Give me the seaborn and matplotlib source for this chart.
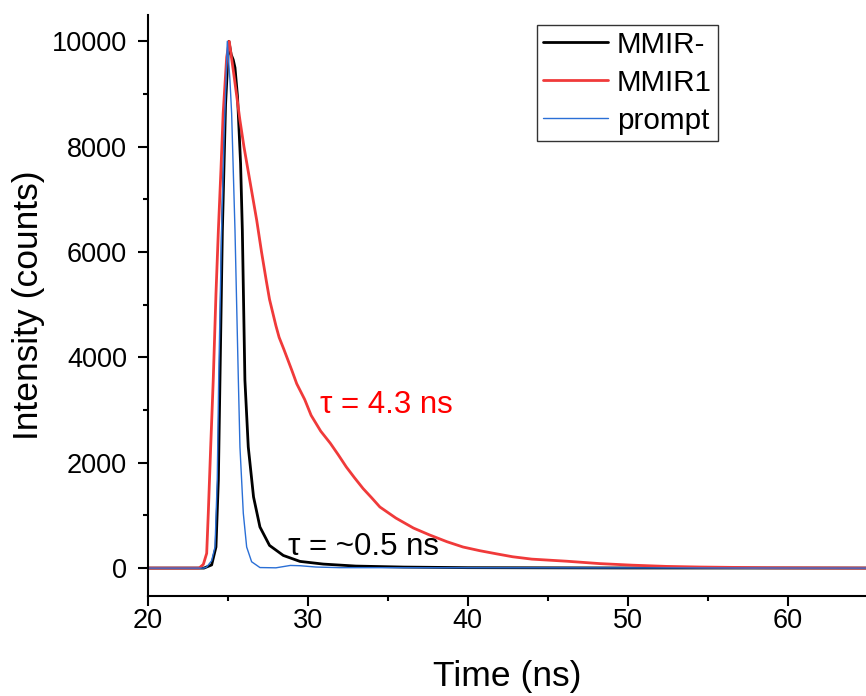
import numpy as np
import pandas as pd
import matplotlib
matplotlib.use("Agg")
import matplotlib.pyplot as plt
from matplotlib.ticker import MultipleLocator
import seaborn as sns

# ---- data ----
t_mmir1 = [20.0, 23.2, 23.46, 23.67, 23.77, 23.92, 24.08, 24.25, 24.4, 24.56, 24.7, 24.92,
           25.08, 25.4, 25.75, 26.0, 26.2, 26.4, 26.8, 27.1, 27.4, 27.6, 27.8, 28.0, 28.2,
           28.5, 28.75, 29.0, 29.3, 29.55, 29.8, 30.2, 30.8, 31.4, 31.9, 32.4, 32.9, 33.45,
           34.0, 34.5, 35.5, 36.6, 37.6, 38.7, 39.7, 40.75, 41.8, 42.8, 44.0, 46.2, 48.25,
           50.3, 52.4, 54.5, 58.7, 63.0, 65.0]
i_mmir1 = [0, 0, 70, 280, 1040, 2300, 3570, 5200, 6410, 7550, 8630, 9700,
           10000, 9300, 8500, 8000, 7650, 7300, 6600, 6000, 5450, 5100, 4850, 4600, 4380,
           4150, 3950, 3750, 3500, 3350, 3200, 2900, 2600, 2370, 2150, 1920, 1720, 1510,
           1330, 1160, 950, 760, 630, 500, 400, 330, 270, 215, 170, 130, 85,
           55, 32, 20, 6, 2, 0]

t_mmir = [20.0, 23.5, 23.98, 24.25, 24.4, 24.5, 24.65, 24.85, 25.0, 25.06, 25.2, 25.33,
          25.44, 25.6, 25.79, 25.9, 26.06, 26.27, 26.6, 27.0, 27.6, 28.46, 29.5, 30.96,
          33.0, 36.0, 40.0, 50.0, 65.0]
i_mmir = [0, 0, 60, 400, 1670, 3570, 6400, 8800, 9700, 10000, 9750, 9650,
          9500, 8940, 7680, 6410, 3570, 2300, 1350, 780, 430, 240, 127, 76,
          38, 19, 8, 2, 0]

t_prompt = [20.0, 23.5, 23.67, 23.98, 24.19, 24.33, 24.42, 24.6, 24.77, 24.96, 25.125,
            25.23, 25.44, 25.65, 25.75, 25.96, 26.17, 26.48, 27.0, 28.0, 28.9, 29.5,
            30.5, 32.0, 65.0]
i_prompt = [0, 0, 20, 140, 400, 1670, 3570, 6410, 8300, 10000, 9260,
            8630, 6410, 3570, 2300, 1040, 400, 120, 10, 5, 50, 45,
            20, 8, 0]

series_names = ["MMIR-", "MMIR1", "prompt"]
series_colors = ["#000000", "#f03a3a", "#2a6fd6"]
series_widths = [2.0, 2.0, 1.0]

x_ticks = [20, 30, 40, 50, 60]
y_ticks = [0, 2000, 4000, 6000, 8000, 10000]

frames = {
    "MMIR-": pd.DataFrame({"Time": t_mmir, "Intensity": i_mmir}),
    "MMIR1": pd.DataFrame({"Time": t_mmir1, "Intensity": i_mmir1}),
    "prompt": pd.DataFrame({"Time": t_prompt, "Intensity": i_prompt}),
}

sns.set_theme(style="ticks")
plt.rcParams["font.family"] = ["Liberation Sans", "DejaVu Sans"]
plt.rcParams["text.color"] = "black"
plt.rcParams["axes.labelcolor"] = "black"

fig = plt.figure(figsize=(8.66, 6.96), dpi=100)
ax = fig.add_axes([148 / 866, 1 - 596 / 696, 718 / 866, 581 / 696])

for name, col, lw in zip(series_names, series_colors, series_widths):
    sns.lineplot(data=frames[name], x="Time", y="Intensity", ax=ax, color=col,
                 linewidth=lw, label=name, estimator=None, sort=False)

ax.set_xlim(20, 64.9)
ax.set_ylim(-530, 10500)
ax.set_xticks(x_ticks)
ax.set_yticks(y_ticks)
ax.xaxis.set_minor_locator(MultipleLocator(5))
ax.yaxis.set_minor_locator(MultipleLocator(1000))
ax.tick_params(which="major", direction="out", length=7, width=1.5, labelsize=19.5,
               color="black", labelcolor="black")
ax.tick_params(which="minor", direction="out", length=3.8, width=1.5, color="black")
ax.tick_params(axis="x", which="major", pad=1.5)
ax.tick_params(axis="y", which="major", pad=8)
for s in ["top", "right"]:
    ax.spines[s].set_visible(False)
for s in ["left", "bottom"]:
    ax.spines[s].set_linewidth(1.5)
    ax.spines[s].set_color("black")

ax.set_xlabel("Time (ns)", fontsize=25.5, labelpad=19, color="black")
ax.set_ylabel("Intensity (counts)", fontsize=25.5, labelpad=5, color="black")

ax.text(30.75, 3100, "τ = 4.3 ns", color="#ff0000", fontsize=22.5, va="center", ha="left")
ax.text(28.75, 400, "τ = ~0.5 ns", color="black", fontsize=22.5, va="center", ha="left")

leg = ax.legend(loc="upper left", bbox_to_anchor=(0.542, 0.983), borderaxespad=0,
                fontsize=21.3, frameon=True, fancybox=False, edgecolor="black",
                handlelength=2.2, handletextpad=0.3, labelspacing=0.335, borderpad=0.2)
leg.get_frame().set_linewidth(1.0)
for txt in leg.get_texts():
    txt.set_color("black")

fig.savefig("out.png", dpi=100)
